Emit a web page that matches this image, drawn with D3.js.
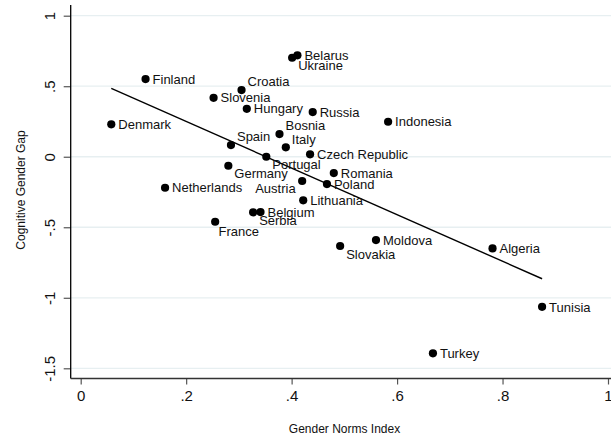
<!DOCTYPE html>
<html>
<head>
<meta charset="utf-8">
<script src="https://cdn.jsdelivr.net/npm/d3@7"></script>
<style>
  html, body { margin: 0; padding: 0; background: #fff; }
  svg { display: block; font-family: "Liberation Sans", Arial, Helvetica, sans-serif; }
</style>
</head>
<body>
<svg id="chart" width="611" height="441"></svg>
<script>
// ---- data ----
const countries = ["Belarus","Ukraine","Finland","Croatia","Slovenia","Hungary","Russia","Denmark",
  "Bosnia","Spain","Italy","Czech Republic","Portugal","Germany","Romania","Austria","Poland",
  "Netherlands","Lithuania","Belgium","Serbia","France","Slovakia","Moldova","Algeria","Tunisia",
  "Turkey","Indonesia"];
const genderNorms = [0.411,0.401,0.123,0.305,0.252,0.315,0.440,0.058,
  0.377,0.285,0.389,0.435,0.352,0.280,0.480,0.420,0.467,
  0.160,0.422,0.341,0.327,0.255,0.492,0.560,0.781,0.875,
  0.668,0.583];
const cognitiveGap = [0.719,0.702,0.551,0.473,0.418,0.340,0.317,0.230,
  0.161,0.083,0.067,0.017,0.000,-0.064,-0.116,-0.172,-0.194,
  -0.220,-0.309,-0.392,-0.394,-0.461,-0.633,-0.591,-0.650,-1.064,
  -1.394,0.248];
// fitted line endpoints (x, y)
const fitX = [0.058, 0.875];
const fitY = [0.485, -0.865];
const xTicks = [0, 0.2, 0.4, 0.6, 0.8, 1];
const xTickLabels = ["0", ".2", ".4", ".6", ".8", "1"];
const yTicks = [1, 0.5, 0, -0.5, -1, -1.5];
const yTickLabels = ["1", ".5", "0", "-.5", "-1", "-1.5"];
const xTitle = "Gender Norms Index";
const yTitle = "Cognitive Gender Gap";

// label clock positions (style)
const labelClock = {
  "Ukraine": 4, "Croatia": 2, "Bosnia": 2, "Spain": 2, "Italy": 2,
  "Portugal": 4, "Germany": 4, "Austria": 7, "Serbia": 4, "France": 5, "Slovakia": 4
};

// ---- layout ----
const svg = d3.select("#chart");
const x = d3.scaleLinear().domain([0, 1]).range([80.7, 608]);
const y = d3.scaleLinear().domain([1, -1.5]).range([15.7, 368.3]);
const axisX = 70.7, axisTop = 5, axisBottom = 378.5, axisRight = 611;

// gridlines
svg.append("g").selectAll("line").data(yTicks).join("line")
  .attr("x1", axisX).attr("x2", axisRight)
  .attr("y1", d => y(d)).attr("y2", d => y(d))
  .attr("stroke", "#e7eff1").attr("stroke-width", 1.3);

// axes via d3 axis generators
const gx = svg.append("g").attr("transform", `translate(0,${axisBottom})`)
  .call(d3.axisBottom(x).tickValues(xTicks).tickFormat((d, i) => xTickLabels[i]).tickSize(6).tickSizeOuter(0));
gx.select(".domain").remove();
gx.selectAll(".tick line").attr("stroke", "#555").attr("stroke-width", 1.2);
gx.selectAll(".tick text").attr("font-size", 15).attr("fill", "#111")
  .attr("font-family", "Liberation Sans, Arial, sans-serif").attr("dy", null).attr("y", 0)
  .attr("transform", "translate(0,22.5)");

const gy = svg.append("g").attr("transform", `translate(${axisX},0)`)
  .call(d3.axisLeft(y).tickValues(yTicks).tickFormat((d, i) => yTickLabels[i]).tickSize(7).tickSizeOuter(0));
gy.select(".domain").remove();
gy.selectAll(".tick line").attr("stroke", "#555").attr("stroke-width", 1.2);
gy.selectAll(".tick text").attr("font-size", 15).attr("fill", "#111")
  .attr("font-family", "Liberation Sans, Arial, sans-serif")
  .attr("x", 0).attr("dy", null).attr("text-anchor", "middle")
  .attr("transform", "translate(-15.2,0) rotate(-90)");

// axis lines
svg.append("line").attr("x1", axisX).attr("x2", axisX).attr("y1", axisTop).attr("y2", axisBottom)
  .attr("stroke", "#000").attr("stroke-width", 1.3);
svg.append("line").attr("x1", axisX).attr("x2", axisRight).attr("y1", axisBottom).attr("y2", axisBottom)
  .attr("stroke", "#333").attr("stroke-width", 1.3);

// fit line
svg.append("path")
  .datum(fitX.map((d, i) => [d, fitY[i]]))
  .attr("d", d3.line().x(d => x(d[0])).y(d => y(d[1])))
  .attr("fill", "none").attr("stroke", "#000").attr("stroke-width", 1.4);

// points
const pts = countries.map((c, i) => ({ name: c, gx: genderNorms[i], gy: cognitiveGap[i] }));
svg.append("g").selectAll("circle").data(pts).join("circle")
  .attr("cx", d => x(d.gx)).attr("cy", d => y(d.gy)).attr("r", 4.1).attr("fill", "#000");

// labels
function labelAttrs(d) {
  const pos = labelClock[d.name] || 3;
  const cx = x(d.gx), cy = y(d.gy);
  if (pos === 2) return { x: cx + 6, y: cy - 3.7, anchor: "start" };
  if (pos === 4) return { x: cx + 6, y: cy + 12.5, anchor: "start" };
  if (pos === 5) return { x: cx + 3.4, y: cy + 14.5, anchor: "start" };
  if (pos === 7) return { x: cx - 6.5, y: cy + 12.3, anchor: "end" };
  return { x: cx + 7, y: cy + 4.7, anchor: "start" };
}
svg.append("g").selectAll("text").data(pts).join("text")
  .each(function (d) {
    const a = labelAttrs(d);
    d3.select(this).attr("x", a.x).attr("y", a.y).attr("text-anchor", a.anchor);
  })
  .attr("font-size", 13).attr("fill", "#111").text(d => d.name);

// axis titles
svg.append("text").attr("x", 344.5).attr("y", 433).attr("text-anchor", "middle")
  .attr("font-size", 12).attr("fill", "#111").text(xTitle);
svg.append("text").attr("transform", "translate(25,190) rotate(-90)").attr("text-anchor", "middle")
  .attr("font-size", 12).attr("fill", "#111").text(yTitle);
</script>
</body>
</html>
